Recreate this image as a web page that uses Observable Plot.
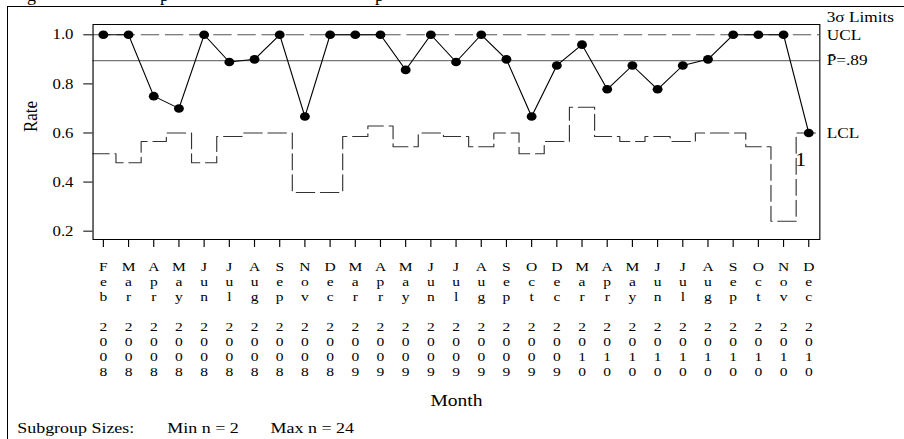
<!DOCTYPE html>
<html>
<head>
<meta charset="utf-8">
<script src="https://cdn.jsdelivr.net/npm/d3@7"></script>
<script src="https://cdn.jsdelivr.net/npm/@observablehq/plot@0.6"></script>
<style>
  html, body { margin: 0; padding: 0; background: #fff; }
  #wrap { position: relative; width: 904px; height: 439px; overflow: hidden; background: #fff; }
  #outer { position: absolute; left: 7px; top: 6px; width: 1200px; height: 1200px; border-top: 1px solid #000; border-left: 1px solid #000; }
  .frag { position: absolute; top: -14px; font: 18px/18px "Liberation Serif", "Times New Roman", serif; color: #000; }
  #chart { position: absolute; left: 0; top: 0; }
</style>
</head>
<body>
<div id="wrap">
  <div id="outer"></div>
  <span class="frag" style="left:27px">g</span>
  <span class="frag" style="left:160px">p</span>
  <span class="frag" style="left:375px">p</span>
  <div id="chart"></div>
</div>
<script>
// ---- data ----
const months = ["Feb","Mar","Apr","May","Jun","Jul","Aug","Sep","Nov","Dec",
                "Mar","Apr","May","Jun","Jul","Aug","Sep","Oct","Dec",
                "Mar","Apr","May","Jun","Jul","Aug","Sep","Oct","Nov","Dec"];
const years  = ["2008","2008","2008","2008","2008","2008","2008","2008","2008","2008",
                "2009","2009","2009","2009","2009","2009","2009","2009","2009",
                "2010","2010","2010","2010","2010","2010","2010","2010","2010","2010"];
const rates  = [1, 1, 0.75, 0.70, 1, 0.889, 0.90, 1, 0.667, 1,
                1, 1, 0.857, 1, 0.889, 1, 0.90, 0.667, 0.875,
                0.96, 0.778, 0.875, 0.778, 0.875, 0.90, 1, 1, 1, 0.60];
const lcl    = [0.515, 0.479, 0.565, 0.60, 0.479, 0.586, 0.60, 0.60, 0.358, 0.358,
                0.586, 0.628, 0.544, 0.60, 0.586, 0.544, 0.60, 0.515, 0.565,
                0.705, 0.586, 0.565, 0.586, 0.565, 0.60, 0.60, 0.544, 0.240, 0.60];
const ucl = 1.0;
const pbar = 0.895;
const yTicks = [0.2, 0.4, 0.6, 0.8, 1.0];
const yLabel = "Rate";
const xLabel = "Month";
const limitsTitle = "3σ Limits";
const lineLabels = ["UCL", "P\u0304=.89", "LCL"];
const failures = [{index: 28, label: "1"}];
const footer = ["Subgroup Sizes:", "Min n = 2", "Max n = 24"];

// ---- build ----
const S = 1.15;               // horizontal stretch of the reference picture
const W0 = 904 / S;
const idx = d3.range(months.length);
const points = idx.map(i => ({i, rate: rates[i], lcl: lcl[i]}));
const lclPath = [{i: -0.5, lcl: lcl[0]}, ...points, {i: idx.length - 0.5, lcl: lcl[lcl.length - 1]}];
const labelData = [
  {text: lineLabels[0], y: ucl},
  {text: lineLabels[1], y: pbar},
  {text: lineLabels[2], y: lcl[lcl.length - 1]}
];
const tickText = i => months[i].split("").join("\n") + "\n\n" + years[i].split("").join("\n");
const serif = "'Liberation Serif', 'Times New Roman', serif";

const chart = Plot.plot({
  width: W0,
  height: 439,
  marginTop: 24,
  marginBottom: 200,
  marginLeft: 80.4,
  marginRight: W0 - 712.4,
  x: {domain: [-0.41, idx.length - 1 + 0.44]},
  y: {domain: [0.166, 1.042]},
  style: {fontFamily: serif, fontSize: "14px", background: "transparent", color: "#000", overflow: "visible"},
  marks: [
    Plot.ruleY([ucl], {stroke: "#555", strokeWidth: 1, strokeDasharray: "16,5"}),
    Plot.ruleY([pbar], {stroke: "#777", strokeWidth: 1.3}),
    Plot.line(lclPath, {x: "i", y: "lcl", curve: "step", stroke: "#333", strokeWidth: 1, strokeDasharray: "16,5", clip: true}),
    Plot.line(points, {x: "i", y: "rate", stroke: "#000", strokeWidth: 1}),
    Plot.dot(points, {x: "i", y: "rate", r: 4.3, fill: "#000", stroke: "none"}),
    Plot.frame({stroke: "#000", strokeWidth: 1}),
    Plot.axisY({ticks: yTicks, tickSize: 8, tickPadding: 9, tickFormat: d3.format(".1f"), fontSize: 14.6, label: null}),
    Plot.axisX({ticks: idx, tickSize: 8, tickFormat: () => "", label: null}),
    Plot.text(idx, {x: d => d, frameAnchor: "bottom", lineAnchor: "top", dy: 20.4, text: tickText, fontSize: 13.5, lineHeight: 15 / 13.5}),
    Plot.text([xLabel], {frameAnchor: "bottom", lineAnchor: "bottom", dy: 166, fontSize: 17}),
    Plot.text([yLabel], {frameAnchor: "left", dx: -54.4, rotate: -90, fontSize: 17, lineAnchor: "middle"}),
    Plot.text(labelData, {y: "y", text: "text", frameAnchor: "right", textAnchor: "start", dx: 6, lineAnchor: "middle", fontSize: 15}),
    Plot.text([limitsTitle], {y: () => ucl, frameAnchor: "right", textAnchor: "start", dx: 6, dy: -18, lineAnchor: "middle", fontSize: 15}),
    Plot.text(failures, {x: "index", y: d => rates[d.index], text: "label", dx: -7, dy: 27, fontSize: 19, lineAnchor: "middle"}),
    Plot.text([footer[0]], {frameAnchor: "bottom-left", textAnchor: "start", lineAnchor: "bottom", dx: -65.9, dy: 193, fontSize: 15.6}),
    Plot.text([footer[1]], {frameAnchor: "bottom-left", textAnchor: "start", lineAnchor: "bottom", dx: 64.6, dy: 193, fontSize: 15.6}),
    Plot.text([footer[2]], {frameAnchor: "bottom-left", textAnchor: "start", lineAnchor: "bottom", dx: 154.4, dy: 193, fontSize: 15.6})
  ]
});
chart.setAttribute("width", 904);
chart.setAttribute("height", 439);
chart.setAttribute("preserveAspectRatio", "none");
chart.style.width = "904px";
chart.style.height = "439px";
chart.style.maxWidth = "none";
document.getElementById("chart").appendChild(chart);
</script>
</body>
</html>
